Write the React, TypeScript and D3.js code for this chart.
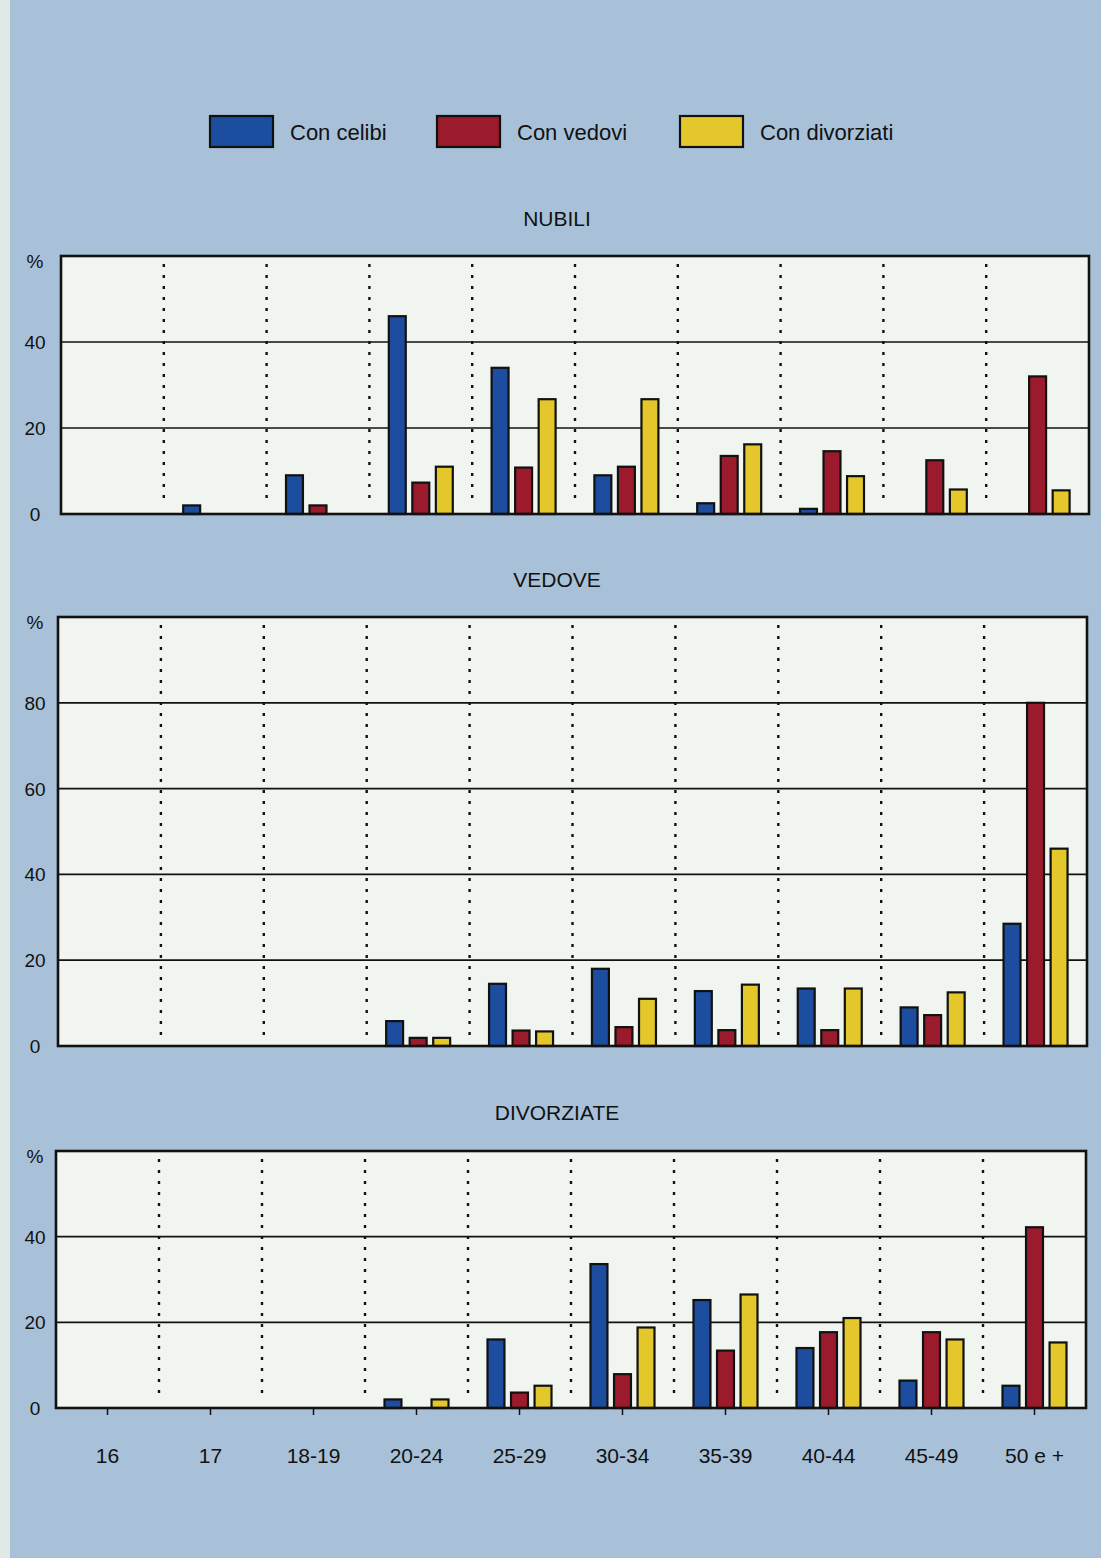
import * as d3 from "d3";

const categories = ["16", "17", "18-19", "20-24", "25-29", "30-34", "35-39", "40-44", "45-49", "50 e +"];
const seriesNames = ["Con celibi", "Con vedovi", "Con divorziati"];
const seriesColors = ["#1c4d9f", "#9b1b2c", "#e4c82b"];

// NUBILI
const nubiliCelibi = [0, 2, 9, 46, 34, 9, 2.5, 1.2, 0, 0];
const nubiliVedovi = [0, 0, 2, 7.3, 10.8, 11, 13.5, 14.6, 12.5, 32];
const nubiliDivorziati = [0, 0, 0, 11, 26.7, 26.7, 16.2, 8.8, 5.7, 5.5];

// VEDOVE
const vedoveCelibi = [0, 0, 0, 5.8, 14.5, 18, 12.8, 13.4, 9, 28.5];
const vedoveVedovi = [0, 0, 0, 1.9, 3.6, 4.4, 3.7, 3.7, 7.2, 80];
const vedoveDivorziati = [0, 0, 0, 1.9, 3.4, 11, 14.3, 13.4, 12.5, 46];

// DIVORZIATE
const divCelibi = [0, 0, 0, 2, 16, 33.6, 25.2, 14, 6.4, 5.2];
const divVedovi = [0, 0, 0, 0, 3.6, 7.9, 13.4, 17.7, 17.7, 42.2];
const divDivorziati = [0, 0, 0, 2, 5.2, 18.8, 26.5, 21, 16, 15.3];

const panels = [
  { title: "NUBILI", titleY: 226, top: 256, bottom: 514, left: 61, right: 1089, max: 60, ticks: [0, 20, 40], series: [nubiliCelibi, nubiliVedovi, nubiliDivorziati], xTicks: false },
  { title: "VEDOVE", titleY: 587, top: 617, bottom: 1046, left: 58, right: 1087, max: 100, ticks: [0, 20, 40, 60, 80], series: [vedoveCelibi, vedoveVedovi, vedoveDivorziati], xTicks: false },
  { title: "DIVORZIATE", titleY: 1120, top: 1151, bottom: 1408, left: 56, right: 1086, max: 60, ticks: [0, 20, 40], series: [divCelibi, divVedovi, divDivorziati], xTicks: true },
];

const W = 1101;
const H = 1558;
const FONT = "'Liberation Sans', Arial, sans-serif";

function Panel({ p }: { p: (typeof panels)[number] }) {
  const x = d3.scaleBand<string>().domain(categories).range([p.left, p.right]).paddingInner(0);
  const y = d3.scaleLinear().domain([0, p.max]).range([p.bottom, p.top]);
  const groupW = 64;
  const inner = d3.scaleBand<string>().domain(seriesNames).range([0, groupW]).paddingInner(0.28);
  const bw = inner.bandwidth();
  const cx = (c: string) => (x(c) as number) + x.bandwidth() / 2;

  return (
    <g>
      <text x={557} y={p.titleY} textAnchor="middle" fontSize={21} fontFamily={FONT} fill="#111">{p.title}</text>
      <rect x={p.left} y={p.top} width={p.right - p.left} height={p.bottom - p.top} fill="#f1f5f0" />
      {p.ticks.filter((t) => t > 0).map((t) => (
        <line key={t} x1={p.left} x2={p.right} y1={y(t)} y2={y(t)} stroke="#111" strokeWidth={1.7} />
      ))}
      {categories.slice(1).map((c) => (
        <line key={c} x1={x(c) as number} x2={x(c) as number} y1={p.top + 8} y2={p.bottom - 8} stroke="#111" strokeWidth={2.4} strokeDasharray="3,8" />
      ))}
      {p.series.map((vals, si) =>
        vals.map((v, i) =>
          v > 0 ? (
            <rect
              key={`${si}-${i}`}
              x={cx(categories[i]) - groupW / 2 + (inner(seriesNames[si]) as number)}
              y={y(v)}
              width={bw}
              height={y(0) - y(v)}
              fill={seriesColors[si]}
              stroke="#111"
              strokeWidth={2.2}
            />
          ) : null
        )
      )}
      <rect x={p.left} y={p.top} width={p.right - p.left} height={p.bottom - p.top} fill="none" stroke="#111" strokeWidth={2.6} />
      <text x={35} y={p.top + 12} textAnchor="middle" fontSize={19} fontFamily={FONT} fill="#111">%</text>
      {p.ticks.map((t) => (
        <text key={t} x={35} y={y(t) + 7} textAnchor="middle" fontSize={19} fontFamily={FONT} fill="#111">{t}</text>
      ))}
      {p.xTicks &&
        categories.map((c) => (
          <g key={c}>
            <line x1={cx(c)} x2={cx(c)} y1={p.bottom} y2={p.bottom + 7} stroke="#111" strokeWidth={1.5} />
            <text x={cx(c)} y={p.bottom + 55} textAnchor="middle" fontSize={21} fontFamily={FONT} fill="#111">{c}</text>
          </g>
        ))}
    </g>
  );
}

export default function App() {
  const legendX = [210, 437, 680];
  return (
    <div style={{ position: "absolute", left: 0, top: 0 }}>
      <svg width={W} height={H} style={{ display: "block" }}>
        <rect x={0} y={0} width={W} height={H} fill="#a8c1d9" />
        <rect x={0} y={0} width={10} height={H} fill="#dfe9e6" />
        {seriesNames.map((s, i) => (
          <g key={s}>
            <rect x={legendX[i]} y={116} width={63} height={31} fill={seriesColors[i]} stroke="#111" strokeWidth={2.2} />
            <text x={legendX[i] + 80} y={140} fontSize={22} fontFamily={FONT} fill="#111">{s}</text>
          </g>
        ))}
        {panels.map((p) => (
          <Panel key={p.title} p={p} />
        ))}
      </svg>
    </div>
  );
}
